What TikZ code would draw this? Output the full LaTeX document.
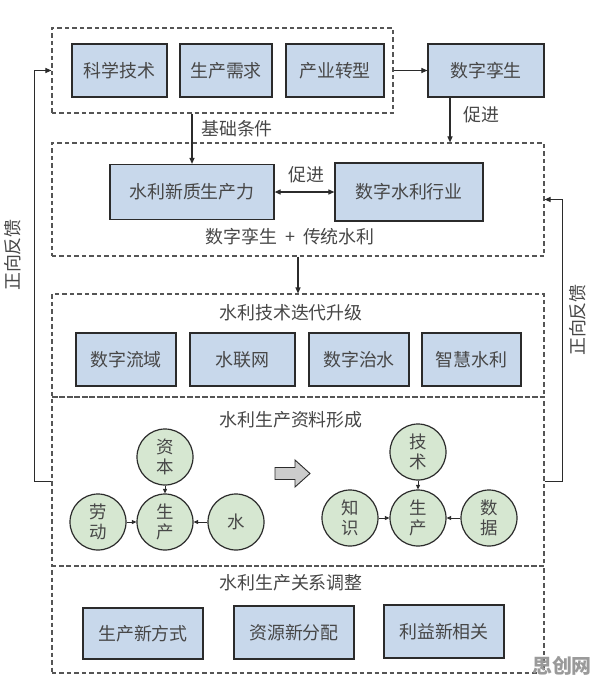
\documentclass[tikz,border=0pt]{standalone}
\usepackage{fontspec}
\setmainfont{Noto Sans CJK SC}
\usetikzlibrary{arrows.meta}
\definecolor{boxblue}{HTML}{C8D8EB}
\definecolor{circgreen}{HTML}{D6E7D1}
\definecolor{txt}{HTML}{474747}
\definecolor{linec}{HTML}{2B2B2B}
\definecolor{dashc}{HTML}{555555}
\definecolor{wmc}{HTML}{9A9A9A}
\newcommand{\fs}{\fontsize{18}{20}\selectfont}
\newcommand{\fsc}{\fontsize{17.5}{20.5}\selectfont}
\tikzset{
  box/.style={draw=linec, line width=1.2bp, fill=boxblue, text=txt, font=\fs, inner sep=0pt},
  dbox/.style={draw=dashc, line width=1.1bp, dash pattern=on 4.5bp off 3bp, inner sep=0pt},
  circ/.style={circle, draw=linec, line width=1.2bp, fill=circgreen, text=txt, font=\fsc, minimum size=56bp, inner sep=0pt, align=center},
  lbl/.style={text=txt, font=\fs, inner sep=0pt},
  arr/.style={draw=linec, line width=1.1bp, -{Triangle[length=6bp,width=5bp]}},
  darr/.style={draw=linec, line width=1.1bp, {Triangle[length=6bp,width=5bp]}-{Triangle[length=6bp,width=5bp]}},
  sarr/.style={draw=linec, line width=1bp, -{Triangle[length=4.5bp,width=4bp]}},
}
\begin{document}
\begin{tikzpicture}[x=1bp,y=-1bp]
\useasboundingbox (0,0) rectangle (596,684);
\fill[white] (0,0) rectangle (596,684);

% dashed containers
\node[dbox, minimum width=341bp, minimum height=85bp] (top) at (222.5,70.5) {};
\node[dbox, minimum width=492bp, minimum height=113bp] (mid) at (298,199.5) {};
\node[dbox, minimum width=492bp, minimum height=103bp] (sub1) at (298,345.5) {};
\node[dbox, minimum width=492bp, minimum height=169bp] (sub2) at (298,481.5) {};
\node[dbox, minimum width=492bp, minimum height=107bp] (sub3) at (298,619.5) {};

% top boxes
\node[box, minimum width=95bp, minimum height=53bp] (kx) at (119.5,70.5) {科学技术};
\node[box, minimum width=92bp, minimum height=53bp] (scxq) at (226,70.5) {生产需求};
\node[box, minimum width=98bp, minimum height=53bp] (cy) at (335,70.5) {产业转型};
\node[box, minimum width=116bp, minimum height=53bp] (szls) at (486,70.5) {数字孪生};

% middle boxes
\node[box, minimum width=164bp, minimum height=55bp] (slxz) at (192,192) {水利新质生产力};
\node[box, minimum width=148bp, minimum height=58bp] (szsl) at (409,192) {数字水利行业};
\node[lbl] (mlbl) at (290,237) {数字孪生\hspace{0.45em}+\hspace{0.45em}传统水利};
\node[lbl] (cj1) at (306,175) {促进};

% labels on top connectors
\node[lbl] (jc) at (237,129) {基础条件};
\node[lbl] (cj2) at (481,115) {促进};

% sub1
\node[lbl] (t1) at (291,313) {水利技术迭代升级};
\node[box, minimum width=100bp, minimum height=53bp] (szly) at (126,359.5) {数字流域};
\node[box, minimum width=105bp, minimum height=53bp] (slw) at (242.5,359.5) {水联网};
\node[box, minimum width=100bp, minimum height=53bp] (szzs) at (359,359.5) {数字治水};
\node[box, minimum width=99bp, minimum height=53bp] (zhsl) at (471.5,359.5) {智慧水利};

% sub2
\node[lbl] (t2) at (291,420) {水利生产资料形成};
\node[circ] (zb) at (165,457) {资\\本};
\node[circ] (sca) at (165,522) {生\\产};
\node[circ] (ld) at (98,522) {劳\\动};
\node[circ] (sh) at (236,522) {水};
\draw[sarr] (zb) -- (sca);
\draw[sarr] (ld) -- (sca);
\draw[sarr] (sh) -- (sca);
\node[circ] (js) at (418,452) {技\\术};
\node[circ] (scb) at (418,518) {生\\产};
\node[circ] (zs) at (350,518) {知\\识};
\node[circ] (sj) at (489,518) {数\\据};
\draw[sarr] (js) -- (scb);
\draw[sarr] (zs) -- (scb);
\draw[sarr] (sj) -- (scb);
\draw[draw=linec, line width=0.9bp, fill=gray!40]
  (275,467.5) -- (295,467.5) -- (295,460) -- (310,473.5) -- (295,487) -- (295,479.5) -- (275,479.5) -- cycle;

% sub3
\node[lbl] (t3) at (291,583) {水利生产关系调整};
\node[box, minimum width=120bp, minimum height=51bp] (scxfs) at (143,633.5) {生产新方式};
\node[box, minimum width=120bp, minimum height=53bp] (zyxfp) at (294,632.5) {资源新分配};
\node[box, minimum width=120bp, minimum height=53bp] (lyxxg) at (444,631.5) {利益新相关};

% connectors
\draw[arr] (top.east) -- (szls.west);
\draw[arr] (top.south -| slxz.north) -- (slxz.north);
\draw[arr] ([xshift=-36bp]szls.south) -- ([xshift=-36bp]szls.south |- mid.north);
\draw[darr] (slxz.east) -- (szsl.west |- slxz.east);
\draw[arr] (mid.south) -- (sub1.north);
\draw[arr] (sub2.west) -- ++(-17,0) |- (top.west);
\draw[arr] (sub2.east) -- ++(18,0) |- (mid.east);

% feedback labels
\node[lbl, rotate=90] (fbl) at (13,255) {正向反馈};
\node[lbl, rotate=90] (fbr) at (578,320) {正向反馈};

% watermark
\node[text=wmc, font=\fontsize{20}{21}\selectfont\bfseries, inner sep=0pt] (wm) at (562,666) {思创网};
\end{tikzpicture}
\end{document}
